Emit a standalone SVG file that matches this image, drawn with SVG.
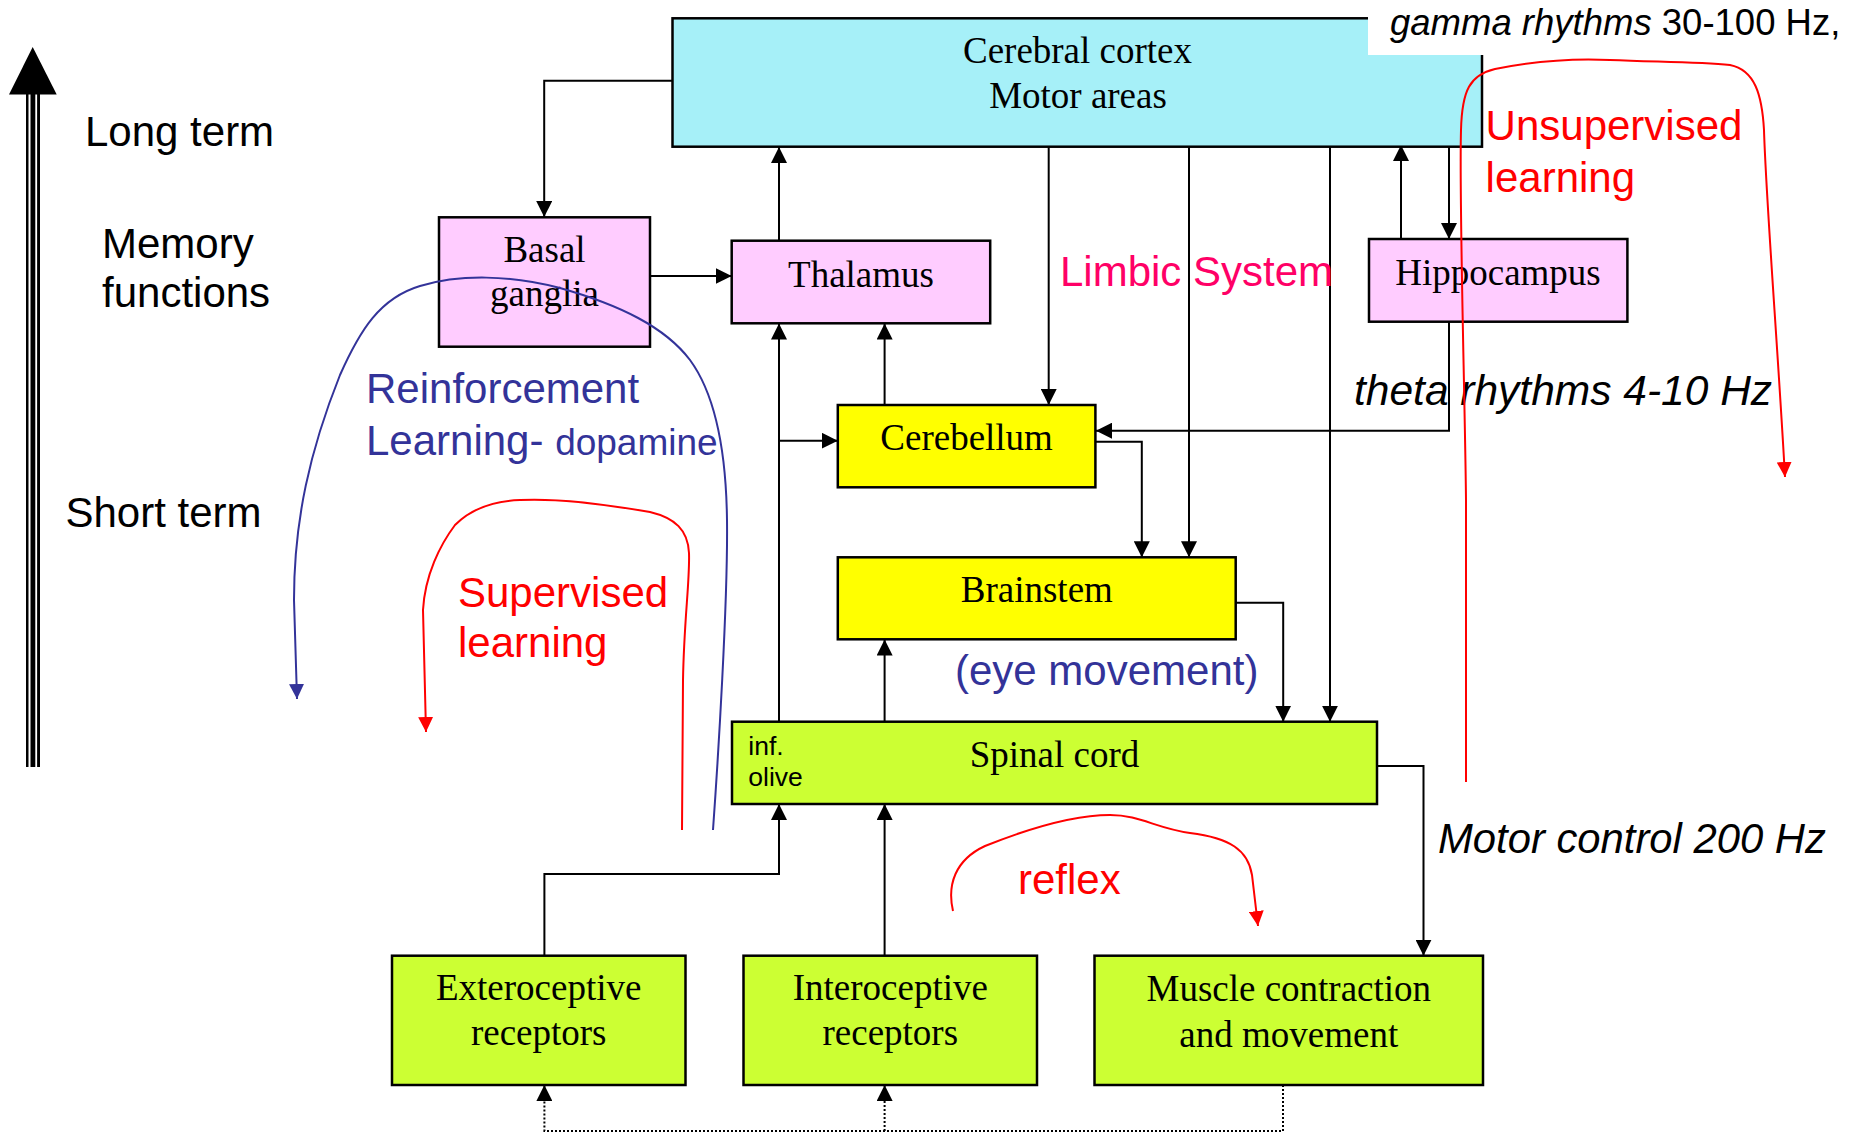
<svg xmlns="http://www.w3.org/2000/svg" width="1849" height="1133" viewBox="0 0 1849 1133">
  <style>
    .box { stroke: #000; stroke-width: 2.5; }
    .cortex { fill: #A6F0F8; }
    .pink { fill: #FFCCFF; }
    .yellow { fill: #FFFF00; }
    .green { fill: #CCFF33; }
    .lbl { font-family: "Liberation Serif", "Times New Roman", serif; font-size: 37px; fill: #000; text-anchor: middle; }
    .sans { font-family: "Liberation Sans", Arial, sans-serif; font-size: 42px; }
    .small { font-size: 26.5px; }
    .gamma { font-size: 36.5px; }
    .theta { font-size: 42.5px; font-style: italic; }
    .motor { font-size: 41.8px; font-style: italic; }
    .conn { fill: none; stroke: #000; stroke-width: 2; }
    .dotted { fill: none; stroke: #000; stroke-width: 2; stroke-dasharray: 2 2; }
    .red { fill: #FF0000; }
    .blue { fill: #333399; }
    .limbic { fill: #FF0066; }
    .curve-red { fill: none; stroke: #FF0000; stroke-width: 2; }
    .curve-blue { fill: none; stroke: #333399; stroke-width: 2; }
  </style>
  <defs>
    <marker id="ah" markerWidth="16" markerHeight="16" refX="16" refY="8" orient="auto" markerUnits="userSpaceOnUse">
      <path d="M0,0 L16,8 L0,16 z" fill="#000"/>
    </marker>
    <marker id="ah-red" markerWidth="15" markerHeight="15" refX="15" refY="7.5" orient="auto" markerUnits="userSpaceOnUse">
      <path d="M0,0 L15,7.5 L0,15 z" fill="#FF0000"/>
    </marker>
    <marker id="ah-blue" markerWidth="15" markerHeight="15" refX="15" refY="7.5" orient="auto" markerUnits="userSpaceOnUse">
      <path d="M0,0 L15,7.5 L0,15 z" fill="#333399"/>
    </marker>
  </defs>

  <rect width="1849" height="1133" fill="#fff"/>

  <!-- time-scale axis -->
  <g id="time-axis">
    <rect x="26" y="93" width="14" height="674" fill="#000"/>
    <rect x="28.5" y="93" width="2" height="674" fill="#fff"/>
    <rect x="35.3" y="93" width="1.8" height="674" fill="#fff"/>
    <path d="M32.7,47 L56.7,94.5 L9,94.5 z" fill="#000"/>
    <text class="sans" x="85" y="146">Long term</text>
    <text class="sans" x="102" y="258">Memory</text>
    <text class="sans" x="102" y="307">functions</text>
    <text class="sans" x="65.5" y="527">Short term</text>
  </g>

  <!-- connectors -->
  <g id="connectors">
    <path class="conn" d="M672.5,80.7 H544.2 V217" marker-end="url(#ah)"/>
    <path class="conn" d="M650,276 H731.7" marker-end="url(#ah)"/>
    <path class="conn" d="M779,240.7 V147" marker-end="url(#ah)"/>
    <path class="conn" d="M779,721.7 V323.5" marker-end="url(#ah)"/>
    <path class="conn" d="M779,440.7 H837.8" marker-end="url(#ah)"/>
    <path class="conn" d="M884.6,405 V323.5" marker-end="url(#ah)"/>
    <path class="conn" d="M1048.7,147 V405" marker-end="url(#ah)"/>
    <path class="conn" d="M1189,147 V557.3" marker-end="url(#ah)"/>
    <path class="conn" d="M1330,147 V721.7" marker-end="url(#ah)"/>
    <path class="conn" d="M1401,239 V145" marker-end="url(#ah)"/>
    <path class="conn" d="M1449,143 V239" marker-end="url(#ah)"/>
    <path class="conn" d="M1449,321.7 V430.7 H1096" marker-end="url(#ah)"/>
    <path class="conn" d="M1095.4,441.7 H1141.8 V557.3" marker-end="url(#ah)"/>
    <path class="conn" d="M1235.7,602.7 H1283.2 V721.7" marker-end="url(#ah)"/>
    <path class="conn" d="M884.6,721.7 V639.5" marker-end="url(#ah)"/>
    <path class="conn" d="M1377,766 H1423.5 V955.7" marker-end="url(#ah)"/>
    <path class="conn" d="M544.4,955.7 V874 H779 V804" marker-end="url(#ah)"/>
    <path class="conn" d="M884.6,955.7 V804" marker-end="url(#ah)"/>
    <path class="dotted" d="M1283,1085 V1131 H544.4 V1085" marker-end="url(#ah)"/>
    <path class="dotted" d="M884.6,1131 V1085" marker-end="url(#ah)"/>
  </g>

  <!-- nodes -->
  <g id="cerebral-cortex">
    <rect class="box cortex" x="672.5" y="18.3" width="809.5" height="128.4"/>
    <text class="lbl" x="1077.5" y="63">Cerebral cortex</text>
    <text class="lbl" x="1078" y="108">Motor areas</text>
  </g>
  <g id="basal-ganglia">
    <rect class="box pink" x="439" y="217.3" width="211" height="129.4"/>
    <text class="lbl" x="544.5" y="262">Basal</text>
    <text class="lbl" x="544.5" y="306">ganglia</text>
  </g>
  <g id="thalamus">
    <rect class="box pink" x="731.7" y="240.7" width="258.5" height="82.6"/>
    <text class="lbl" x="861" y="287">Thalamus</text>
  </g>
  <g id="hippocampus">
    <rect class="box pink" x="1369" y="239" width="258.4" height="82.7"/>
    <text class="lbl" x="1498" y="285">Hippocampus</text>
  </g>
  <g id="cerebellum">
    <rect class="box yellow" x="837.8" y="405" width="257.6" height="82.3"/>
    <text class="lbl" x="966.6" y="450">Cerebellum</text>
  </g>
  <g id="brainstem">
    <rect class="box yellow" x="837.8" y="557.3" width="397.9" height="82"/>
    <text class="lbl" x="1036.8" y="602">Brainstem</text>
  </g>
  <g id="spinal-cord">
    <rect class="box green" x="732" y="721.7" width="645" height="82.3"/>
    <text class="lbl" x="1054.5" y="767">Spinal cord</text>
    <text class="sans small" x="748.3" y="755">inf.</text>
    <text class="sans small" x="748.3" y="786">olive</text>
  </g>
  <g id="exteroceptive-receptors">
    <rect class="box green" x="392" y="955.7" width="293.5" height="129.3"/>
    <text class="lbl" x="538.7" y="1000">Exteroceptive</text>
    <text class="lbl" x="538.7" y="1045">receptors</text>
  </g>
  <g id="interoceptive-receptors">
    <rect class="box green" x="743.5" y="955.7" width="293.5" height="129.3"/>
    <text class="lbl" x="890.3" y="1000">Interoceptive</text>
    <text class="lbl" x="890.3" y="1045">receptors</text>
  </g>
  <g id="muscle-contraction">
    <rect class="box green" x="1094.5" y="955.7" width="388.5" height="129.3"/>
    <text class="lbl" x="1288.8" y="1001">Muscle contraction</text>
    <text class="lbl" x="1288.8" y="1047">and movement</text>
  </g>

  <!-- frequency notes -->
  <g id="rhythm-labels">
    <rect x="1368" y="0" width="481" height="55" fill="#fff"/>
    <text class="sans gamma" x="1390" y="35"><tspan font-style="italic">gamma rhythms</tspan> 30-100 Hz,</text>
    <text class="sans theta" x="1354" y="405">theta rhythms 4-10 Hz</text>
    <text class="sans motor" x="1438" y="853">Motor control 200 Hz</text>
    <text class="sans limbic" x="1060" y="286">Limbic System</text>
  </g>

  <!-- learning loops -->
  <g id="learning-loops">
    <path class="curve-blue" d="M713,830 C718,760 728,600 727,520 C726,440 712,390 690,360 C665,327 620,305 560,288 C510,275 460,274 420,286 C380,298 360,330 340,375 C310,450 294,520 294,600 L297,699" marker-end="url(#ah-blue)"/>
    <text class="sans blue" x="366" y="403">Reinforcement</text>
    <text class="sans blue" x="366" y="455">Learning- <tspan style="font-size:37px">dopamine</tspan></text>
    <text class="sans blue" x="955" y="685">(eye movement)</text>

    <path class="curve-red" d="M682,830 L683,680 C684,620 690,580 689,553 C688,530 675,518 650,512 C610,505 560,498 520,500 C490,501 470,510 455,525 C440,545 425,575 423,610 L426,732" marker-end="url(#ah-red)"/>
    <text class="sans red" x="458" y="607">Supervised</text>
    <text class="sans red" x="458" y="657">learning</text>

    <path class="curve-red" d="M1466,782 L1466,500 C1465,400 1459,200 1461,130 C1462,90 1470,75 1495,69 C1530,62 1570,58 1610,60 C1660,62 1700,62 1730,65 C1755,70 1762,95 1764,130 C1766,200 1778,350 1785,477" marker-end="url(#ah-red)"/>
    <text class="sans red" x="1485.6" y="140">Unsupervised</text>
    <text class="sans red" x="1485.6" y="192">learning</text>

    <path class="curve-red" d="M953,911 C947,885 955,860 985,846 C1020,832 1070,815 1110,815 C1140,815 1155,828 1190,833 C1230,838 1248,850 1252,875 L1258,926" marker-end="url(#ah-red)"/>
    <text class="sans red" x="1018" y="894">reflex</text>
  </g>
</svg>
